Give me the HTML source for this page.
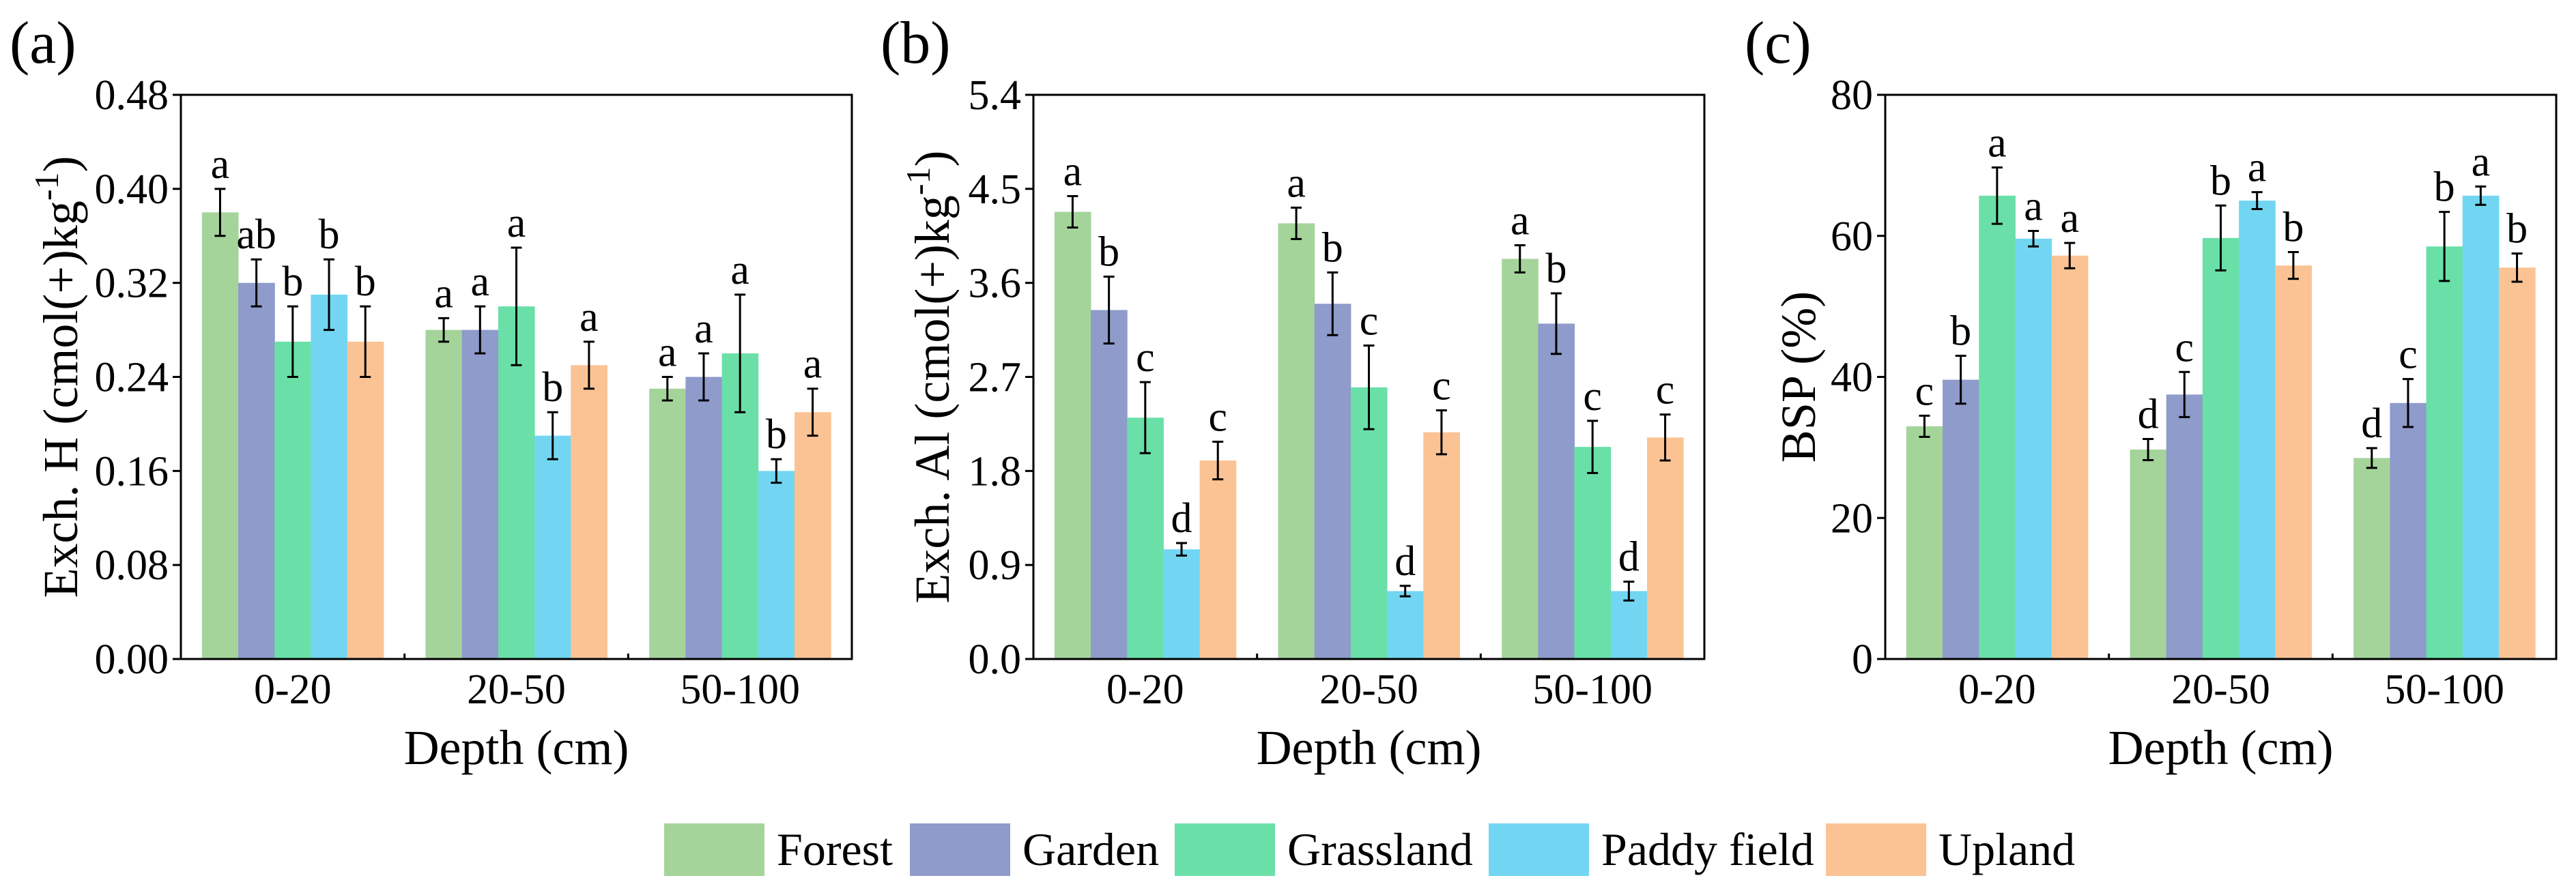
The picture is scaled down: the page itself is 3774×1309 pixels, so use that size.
<!DOCTYPE html>
<html><head><meta charset="utf-8"><style>
html,body{margin:0;padding:0;background:#fff;}
svg, svg text, svg tspan{font-family:"Liberation Serif","Times New Roman",Times,"DejaVu Serif",serif !important;}
</style></head><body>
<svg id="fig" width="3774" height="1304" viewBox="0 0 3774 1304" xmlns="http://www.w3.org/2000/svg" font-family="'Liberation Serif', 'Times New Roman', Times, serif"></svg>
<script>
const categories = ["0-20","20-50","50-100"];
const seriesNames = ["Forest","Garden","Grassland","Paddy field","Upland"];
const seriesColors = ["#a5d49b","#8e9bcb","#6ae0a8","#72d6f2","#fbc394"];

const hValues = [[0.38,0.28,0.23],[0.32,0.28,0.24],[0.27,0.30,0.26],[0.31,0.19,0.16],[0.27,0.25,0.21]];
const hErrors = [[0.02,0.01,0.01],[0.02,0.02,0.02],[0.03,0.05,0.05],[0.03,0.02,0.01],[0.03,0.02,0.02]];
const hLetters = [["a","a","a"],["ab","a","a"],["b","a","a"],["b","b","b"],["b","a","a"]];
const hTicks = ["0.00","0.08","0.16","0.24","0.32","0.40","0.48"];

const alValues = [[4.28,4.17,3.83],[3.34,3.40,3.21],[2.31,2.60,2.03],[1.05,0.65,0.65],[1.90,2.17,2.12]];
const alErrors = [[0.15,0.15,0.13],[0.32,0.30,0.29],[0.34,0.40,0.25],[0.06,0.05,0.09],[0.18,0.21,0.22]];
const alLetters = [["a","a","a"],["b","b","b"],["c","c","c"],["d","d","d"],["c","c","c"]];
const alTicks = ["0.0","0.9","1.8","2.7","3.6","4.5","5.4"];

const bspValues = [[33.0,29.7,28.5],[39.6,37.5,36.3],[65.7,59.7,58.5],[59.6,65.0,65.7],[57.2,55.8,55.5]];
const bspErrors = [[1.5,1.5,1.4],[3.4,3.2,3.4],[4.0,4.6,4.9],[1.1,1.2,1.3],[1.8,1.9,2.0]];
const bspLetters = [["c","d","d"],["b","c","c"],["a","b","b"],["a","a","a"],["a","b","b"]];
const bspTicks = ["0","20","40","60","80"];

const NS="http://www.w3.org/2000/svg";
const FONT="'Liberation Serif', 'Times New Roman', Times, serif";
const svg=document.getElementById('fig');
function mk(tag,attrs,parent,text){const e=document.createElementNS(NS,tag);for(const k in attrs)e.setAttribute(k,attrs[k]);if(tag==='text')e.style.fontFamily=FONT;if(text!==undefined)e.textContent=text;(parent||svg).appendChild(e);return e;}

const TOP=139,BOT=966,W=983;
function panel(key,left,label,labelX,ytitle,ytitleX,ymax,ticks,values,errors,letters){
  const g=mk('g',{});
  
  
  const y=v=>BOT-(v/ymax)*(BOT-TOP);
  const catW=W/categories.length;
  const barW=53.2;
  const x0=c=>left+c*catW+(catW-barW*seriesNames.length)/2;
  for(let s=0;s<seriesNames.length;s++){
    for(let c=0;c<categories.length;c++){
      const v=values[s][c],e=errors[s][c];
      const bx=x0(c)+s*barW;
      const r=mk('rect',{x:bx,y:y(v),width:barW+0.5,height:BOT-y(v),fill:seriesColors[s]},g);
      
      
      const cx=bx+barW/2;
      const eb=mk('path',{d:`M${cx},${y(v+e)}V${y(v-e)}M${cx-8},${y(v+e)}H${cx+8}M${cx-8},${y(v-e)}H${cx+8}`,stroke:'#000','stroke-width':3,fill:'none'},g);
      
      
      const t=mk('text',{x:cx,y:y(v+e)-16,'text-anchor':'middle','font-size':62},g,letters[s][c]);
      
      
    }
  }
  const f=mk('rect',{x:left,y:TOP,width:W,height:BOT-TOP,fill:'none',stroke:'#000','stroke-width':3},g);
  
  
  const n=ticks.length-1;
  ticks.forEach((t,i)=>{
    const ty=BOT-i*(BOT-TOP)/n;
    mk('line',{x1:left-12,x2:left,y1:ty,y2:ty,stroke:'#000','stroke-width':3},g);
    const tl=mk('text',{x:left-18,y:ty+21,'text-anchor':'end','font-size':62},g,t);
    
    
  });
  categories.forEach((c,i)=>{
    if(i>0) mk('line',{x1:left+i*catW,x2:left+i*catW,y1:BOT,y2:BOT-8,stroke:'#000','stroke-width':3},g);
    const tl=mk('text',{x:left+(i+0.5)*catW,y:1031,'text-anchor':'middle','font-size':62},g,c);
    
    
  });
  const xt=mk('text',{x:left+W/2,y:1120,'text-anchor':'middle','font-size':72},g,'Depth (cm)');
  
  
  const yt=mk('text',{x:ytitleX,y:(TOP+BOT)/2,'text-anchor':'middle','font-size':72,transform:`rotate(-90 ${ytitleX} ${(TOP+BOT)/2})`,dy:'0.35em'},g);
  
  
  if(ytitle.sup){
    mk('tspan',{},yt,ytitle.pre);
    mk('tspan',{'baseline-shift':'super','font-size':50},yt,'-1');
    mk('tspan',{},yt,')');
  } else yt.textContent=ytitle.pre;
  const pl=mk('text',{x:labelX,y:92,'font-size':88},g,label);
  
  
}
panel('a',265,'(a)',14,{pre:'Exch. H (cmol(+)kg',sup:true},88,0.48,hTicks,hValues,hErrors,hLetters);
panel('b',1514,'(b)',1290,{pre:'Exch. Al (cmol(+)kg',sup:true},1365,5.4,alTicks,alValues,alErrors,alLetters);
panel('c',2762,'(c)',2556,{pre:'BSP (%)',sup:false},2634,80,bspTicks,bspValues,bspErrors,bspLetters);

const legX=[973,1333,1721,2181,2675];
const lg=mk('g',{});


seriesNames.forEach((s,i)=>{
  const e=mk('g',{},lg);
  
  
  mk('rect',{x:legX[i],y:1207,width:147,height:77,fill:seriesColors[i]},e);
  mk('text',{x:legX[i]+165,y:1268,'font-size':68},e,s);
});
</script>
</body></html>
